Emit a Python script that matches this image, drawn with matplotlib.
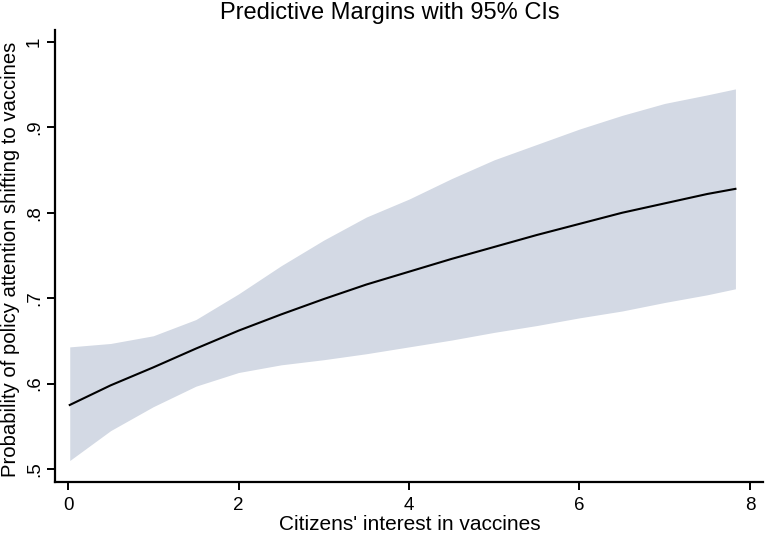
import matplotlib
matplotlib.use("Agg")
import matplotlib.pyplot as plt

# values
interest = [0.02, 0.5, 1.0, 1.5, 2.0, 2.5, 3.0, 3.5, 4.0, 4.5, 5.0, 5.5, 6.0, 6.5, 7.0, 7.5, 7.83]
margin = [0.575, 0.598, 0.619, 0.641, 0.662, 0.681, 0.699, 0.716, 0.731, 0.746,
          0.760, 0.774, 0.787, 0.800, 0.811, 0.822, 0.828]
ci_upper = [0.643, 0.647, 0.656, 0.675, 0.705, 0.738, 0.768, 0.795, 0.816, 0.840,
            0.862, 0.880, 0.898, 0.914, 0.928, 0.938, 0.945]
ci_lower = [0.510, 0.545, 0.573, 0.597, 0.613, 0.622, 0.628, 0.635, 0.643, 0.651,
            0.660, 0.668, 0.677, 0.685, 0.695, 0.704, 0.711]

xticks = [0, 2, 4, 6, 8]
yticks = [0.5, 0.6, 0.7, 0.8, 0.9, 1.0]
ytick_labels = [".5", ".6", ".7", ".8", ".9", "1"]

plt.rcParams['font.family'] = ['Liberation Sans', 'DejaVu Sans']

fig = plt.figure(figsize=(7.65, 5.35), dpi=100)
ax = fig.add_axes([0.072, 0.099, 0.925, 0.845])

ax.fill_between(interest, ci_lower, ci_upper, color="#d3d9e4", linewidth=0)
ax.plot(interest, margin, color="black", linewidth=1.5)

ax.set_xlim(-0.152, 8.15)
ax.set_ylim(0.4848, 1.014)
ax.set_xticks(xticks)
ax.set_yticks(yticks)
ax.set_yticklabels(ytick_labels, rotation=90, va="center")

for s in ["top", "right"]:
    ax.spines[s].set_visible(False)
for s in ["left", "bottom"]:
    ax.spines[s].set_linewidth(1.6)

ax.tick_params(axis="both", direction="out", length=5.8, width=1.4, labelsize=13.5)
ax.tick_params(axis="x", pad=5)
ax.tick_params(axis="y", pad=3)

# axis titles and plot title placed as in the reference
fig.text(410 / 765, 1 - 529.5 / 535, "Citizens' interest in vaccines",
         fontsize=15, ha="center", va="baseline")
fig.text(11 / 765, 1 - 259.5 / 535, "Probability of policy attention shifting to vaccines",
         fontsize=14.6, rotation=90, ha="center", va="center")
fig.text(390 / 765, 1 - 19 / 535, "Predictive Margins with 95% CIs",
         fontsize=17, ha="center", va="baseline")

fig.savefig("out.png", dpi=100)
